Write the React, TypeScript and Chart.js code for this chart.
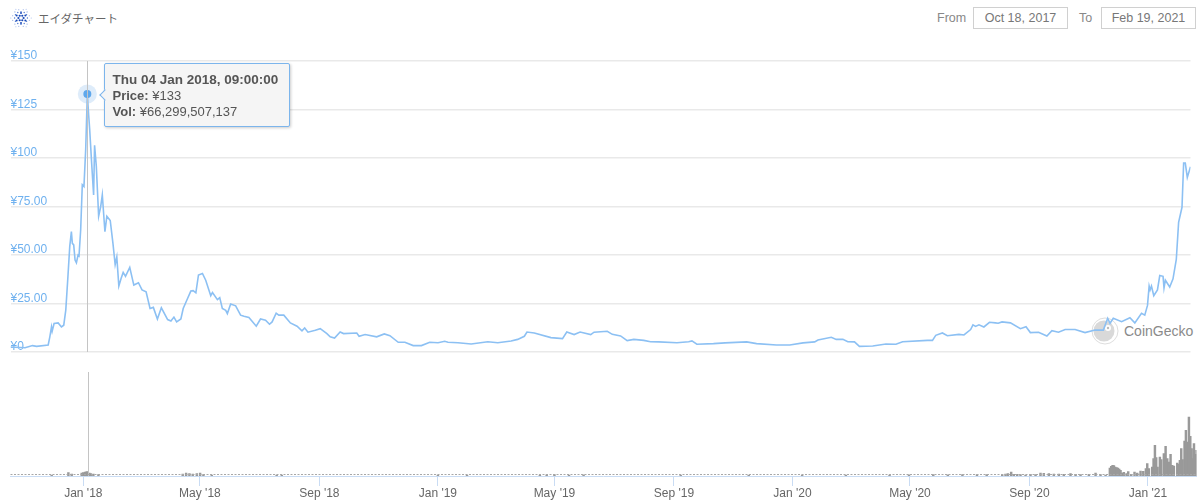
import React, { useEffect, useRef } from "react";
import { Chart, registerables } from "chart.js";

Chart.register(...registerables);

// Days counted from Oct 18, 2017
const priceDays = [
  0, 15, 22.8, 27, 39, 40.7, 42.4, 43.1, 45.1, 49.3, 52.7, 55.1, 57.2, 59.2, 61.3, 63, 64, 65.4, 66.8, 68.2, 69.9, 70.9, 72.6, 74.3, 76, 77.8,
  79.5, 80.9, 81.9, 84, 86, 87, 88.8, 91.2, 93.2, 95, 97.7, 99.7, 103.2, 106, 108.3, 110, 112.1, 114.5, 116.6, 119, 123.4, 127.6, 132.4, 136.1,
  140.3, 144.4, 147.8, 152, 156.1, 162.6, 166, 169.1, 171.9, 176.3, 178.7, 183.2, 186.6, 189, 191.8, 194.5, 198.6, 202, 207.2, 209, 214.1, 216.5,
  219.2, 222.7, 224.4, 227.8, 233, 238.1, 241.6, 246.7, 254.3, 258.7, 263.9, 268, 270.7, 274.9, 277.6, 282.8, 289.6, 296.5,
  301.6, 304.4, 307.8, 315.4, 320.5, 327.4, 330.8, 335.3, 341.1, 344.6, 358.3, 360.7, 366.9, 378.9, 386.8, 392.6, 401.2, 408.1, 416.7, 425.2,
  433.8, 442.4, 449.3, 452.7, 463, 476.7, 493.9, 504.2, 518, 524.8, 531.7, 534.4, 542, 559.2, 571.2, 575.6, 583.2, 589.4, 600.4, 603.8, 617.5,
  622.7, 631.3, 638.1, 645, 655.3, 662.2, 670.7, 689.6, 701.7, 705.1, 710.2,
  727.4, 739.4, 761.7, 772, 792.6, 806.3, 820.1, 832.1, 835.5, 849.3, 854.4, 861.3, 866.4, 873.3, 878.4, 892.2, 905.9, 916.2, 923.1, 948.8, 954,
  957.4, 964.3, 969.4, 981.4, 986.6, 993.5, 995.9, 998.6, 1002.1, 1007.2, 1013,
  1019.2, 1022, 1026, 1034.7, 1045, 1050.8, 1055.3, 1063.8, 1072.4, 1077.6, 1084.4, 1091.3, 1101.6, 1111.9, 1122.2, 1130.8, 1135.3, 1137.7, 1141.1,
  1149.7, 1158.3, 1163.4, 1170.3, 1173.7, 1176.5, 1178.2, 1179.2, 1180.6, 1183, 1186.8, 1189.2, 1192.6, 1193.6, 1195, 1199.5, 1202.9, 1206.3, 1208.7,
  1212.2, 1213.9, 1215.6, 1217.7, 1221,
];
const priceValues = [
  2.6, 2.2, 3.3, 2.9, 3.6, 7.8, 12.9, 10.7, 14.7, 15, 12.9, 13.8, 21.6, 37.1, 54.3, 62.1, 56, 55.2, 47.4, 46, 50, 49.5, 62.9, 86.2, 85.3, 104.3,
  133, 122, 115, 97, 81, 106.6, 95.7, 70, 74.6, 81, 62, 70, 67.8, 56, 45, 49, 34, 38, 41, 39, 43.6, 34.5, 35.7, 32,
  31, 22.4, 23, 17, 22.8, 16.7, 16, 18, 15.5, 17, 22.4, 27.6, 31.4, 31.6, 30.5, 39.7, 40.5, 37, 29, 30.7, 27, 28,
  22.4, 21.5, 19.8, 24.7, 23.8, 19, 18.4, 17.8, 13.3, 17, 16.4, 14.3, 15.5, 20, 19, 19, 15, 13.3,
  10.9, 12.4, 10.2, 11.2, 12, 9.5, 7.8, 7.2, 10.3, 9.5, 9.8, 8.1, 9, 7.8, 9.3, 8.4, 5, 5, 3.3, 3.3,
  5, 4.8, 5.5, 5, 4.8, 4.1, 5.3, 4.8, 5.7, 6.5, 8.1, 10.3, 9.8, 7.4, 6.9, 10.3, 9, 10.3, 9, 10.2, 10.7,
  9.1, 8.3, 5.9, 6.5, 6, 5.3, 5.2, 4.8, 5.3, 5.7, 4,
  4.3, 4.7, 5.2, 4.3, 3.6, 3.6, 4.7, 5.2, 6.2, 7.6, 6.5, 6.5, 5.3, 5.2, 2.9, 3.1, 4.1, 4, 5.3, 6, 6,
  8.6, 9.8, 8.4, 9.1, 8.8, 11.6, 14, 13.2, 14, 12.9, 15.3,
  15, 14.8, 15.5, 15, 12, 13, 10, 10.2, 8.2, 11, 10.2, 11.6, 11.6, 10, 11.3, 11.3, 17.4, 14.8, 17.4,
  15.6, 17.7, 15, 20, 19, 24, 34, 32, 34, 29, 32, 39.4, 39, 33, 37, 33.5, 37.7, 47.7, 66.8,
  74.6, 97.4, 97.4, 90, 95.5,
];
const volumeDays = [
  42.4, 59.6, 63, 73.3, 75, 76.7, 78.5, 79.5, 81.2, 82.6, 85.3, 90.5,
  177.3, 180.8, 184.2, 187.6, 191.8, 195.2, 198.6, 207.2, 274, 279.3,
  440, 470, 545, 552, 560, 575, 590, 690, 760, 815, 860, 905, 925, 950, 965, 980, 995, 1005,
  1021, 1024.4, 1026.8, 1030.2, 1032.9, 1036.4, 1039.8, 1045, 1050.1, 1055.3, 1060.4, 1063.8, 1069, 1074.1, 1079.3, 1084.4, 1091.3, 1096.5, 1101.6,
  1110.2, 1117.1, 1122.2, 1127.4, 1131.8, 1133.2, 1134.6, 1136, 1137.3, 1138.7, 1140.1, 1141.4, 1142.8, 1144.2, 1146.2, 1149, 1150.7, 1153.8, 1157.2,
  1160, 1163.4, 1166.2, 1168.9, 1170.3, 1172, 1175.4, 1176.8, 1178.2, 1179.5, 1180.9, 1183.3, 1184.7, 1187.4, 1189.2, 1190.9, 1192.9, 1194.3, 1196,
  1197.7, 1201.2, 1202.6, 1203.9, 1205.3, 1206.7, 1208.7, 1210.1, 1211.5, 1213.2, 1214.6, 1216, 1217.3, 1218.4, 1219.7, 1221,
];
const volumeValues = [
  16, 58, 33, 50, 58, 66, 74, 66.3, 50, 41, 33, 25,
  33, 50, 41, 33, 41, 50, 25, 16, 16, 16,
  14, 14, 16, 18, 22, 16, 18, 14, 14, 14, 14, 16, 20, 22, 20, 22, 25, 22,
  22, 33, 38.5, 66, 27.5, 27.5, 22, 16.5, 27.5, 22, 49.5, 44, 38.5, 33, 33, 27.5, 38.5, 27.5, 22,
  27.5, 49.5, 22, 16.5, 132, 159.5, 176, 170.5, 148.5, 137.5, 132, 115.5, 93.5, 49.5, 60.5, 38.5, 71.5, 27.5, 66,
  49.5, 82.5, 77, 121, 203.5, 121, 148.5, 286, 506, 302.5, 148.5, 313.5, 269.5, 368.5, 489.5, 286, 231, 357.5, 176,
  165, 214.5, 192.5, 258.5, 451, 269.5, 577.5, 753.5, 561, 973, 655, 451, 286, 533, 357.5, 424,
];
const yTickLabels = ["¥0", "¥25.00", "¥50.00", "¥75.00", "¥100", "¥125", "¥150"];
const xTickDays = [75, 195, 318, 440, 560, 683, 805, 926, 1049, 1171];
const xTickLabels = ["Jan '18", "May '18", "Sep '18", "Jan '19", "May '19", "Sep '19", "Jan '20", "May '20", "Sep '20", "Jan '21"];
const chartTitle = "エイダチャート";
const fromDate = "Oct 18, 2017";
const toDate = "Feb 19, 2021";
const tooltipDate = "Thu 04 Jan 2018, 09:00:00";
const tooltipPrice = "¥133";
const tooltipVolume = "¥66,299,507,137";

const SANS = '"Liberation Sans", Arial, sans-serif';
const peakIndex = priceValues.indexOf(Math.max(...priceValues));
const peakDay = priceDays[peakIndex];
const peakPrice = priceValues[peakIndex];
const DAY_MAX = 1221;

const crosshair = {
  id: "crosshair",
  afterDatasetsDraw(chart: any) {
    const { ctx, chartArea, scales } = chart;
    const x = Math.round(scales.x.getPixelForValue(peakDay)) + 0.5;
    ctx.save();
    ctx.strokeStyle = "#c4c4c4";
    ctx.lineWidth = 1;
    ctx.beginPath();
    ctx.moveTo(x, chartArea.top);
    ctx.lineTo(x, chartArea.bottom);
    ctx.stroke();
    ctx.restore();
  },
};

const baselineDots = {
  id: "baselineDots",
  afterDatasetsDraw(chart: any) {
    const { ctx, chartArea } = chart;
    ctx.save();
    ctx.strokeStyle = "#a8a8a8";
    ctx.lineWidth = 1;
    ctx.setLineDash([2, 1.5]);
    ctx.beginPath();
    ctx.moveTo(chartArea.left, Math.round(chartArea.bottom) - 1.5);
    ctx.lineTo(chartArea.right, Math.round(chartArea.bottom) - 1.5);
    ctx.stroke();
    ctx.restore();
  },
};

function CardanoIcon() {
  const dots: React.ReactNode[] = [];
  const rings = [
    { r: 2.6, n: 6, s: 1.1, c: "#1a4ab8" },
    { r: 5, n: 6, s: 1, c: "#1a4ab8" },
    { r: 6.4, n: 12, s: 0.7, c: "#4a74cf" },
    { r: 8.6, n: 12, s: 0.55, c: "#7f9cdf" },
    { r: 10.2, n: 6, s: 0.5, c: "#9ab2e8" },
  ];
  rings.forEach((ring, i) => {
    for (let k = 0; k < ring.n; k++) {
      const a = (k / ring.n) * Math.PI * 2 + (i % 2 ? Math.PI / ring.n : 0);
      dots.push(<circle key={i + "-" + k} cx={11 + ring.r * Math.cos(a)} cy={11 + ring.r * Math.sin(a)} r={ring.s} fill={ring.c} />);
    }
  });
  return (
    <svg width={22} height={22} style={{ position: "absolute", left: 10, top: 7 }}>
      {dots}
    </svg>
  );
}

export default function App() {
  const priceRef = useRef<HTMLCanvasElement>(null);
  const volumeRef = useRef<HTMLCanvasElement>(null);

  useEffect(() => {
    const priceChart = new Chart(priceRef.current!, {
      type: "line",
      data: {
        datasets: [
          {
            data: [{ x: peakDay, y: peakPrice }],
            pointRadius: 4,
            pointBackgroundColor: "#5fa8ec",
            pointBorderWidth: 0,
            showLine: false,
            order: 0,
          },
          {
            data: priceDays.map((d, i) => ({ x: d, y: priceValues[i] })),
            borderColor: "#8cc0f3",
            borderWidth: 1.6,
            pointRadius: 0,
            tension: 0,
            order: 1,
          },
          {
            data: [{ x: peakDay, y: peakPrice }],
            pointRadius: 9.5,
            pointBackgroundColor: "rgba(124,181,236,0.25)",
            pointBorderWidth: 0,
            showLine: false,
            order: 2,
          },
        ],
      },
      options: {
        animation: false,
        responsive: false,
        events: [],
        layout: { padding: { left: 10.5, right: 3.5, top: 61, bottom: 18 } },
        plugins: { legend: { display: false }, tooltip: { enabled: false } },
        scales: {
          x: { type: "linear", display: false, min: 0, max: DAY_MAX },
          y: {
            min: 0,
            max: 150,
            border: { display: false },
            grid: { color: "#e9e9e9", lineWidth: 1.5, drawTicks: false },
            afterFit: (s: any) => { s.width = 0; },
            ticks: {
              stepSize: 25,
              mirror: true,
              padding: 0,
              labelOffset: -5,
              color: "#6fb1ef",
              font: { family: SANS, size: 12 },
              callback: (_v: any, i: number) => yTickLabels[i],
            },
          },
        },
      },
      plugins: [crosshair],
    } as any);

    const volumeChart = new Chart(volumeRef.current!, {
      type: "bar",
      data: {
        datasets: [
          {
            data: volumeDays.map((d, i) => ({ x: d, y: volumeValues[i] })),
            backgroundColor: "#999999",
            barThickness: 1.8,
          },
        ],
      },
      options: {
        animation: false,
        responsive: false,
        events: [],
        layout: { padding: { left: 10.5, right: 3.5, top: 12, bottom: 0 } },
        plugins: { legend: { display: false }, tooltip: { enabled: false } },
        scales: {
          x: {
            type: "linear",
            min: 0,
            max: DAY_MAX,
            offset: false,
            afterBuildTicks: (s: any) => { s.ticks = xTickDays.map((value) => ({ value })); },
            afterFit: (s: any) => { s.height = 26; },
            grid: { offset: false, drawOnChartArea: false, tickLength: 10, tickColor: "#c9dcf4" },
            border: { color: "#c9dcf4" },
            ticks: {
              autoSkip: false,
              maxRotation: 0,
              color: "#666666",
              padding: 0,
              font: { family: SANS, size: 12 },
              callback: (_v: any, i: number) => xTickLabels[i],
            },
          },
          y: {
            min: 0,
            max: 1716,
            afterBuildTicks: (s: any) => { s.ticks = []; },
            afterFit: (s: any) => { s.width = 0; },
            border: { display: false },
            grid: { display: false },
            ticks: { display: false },
          },
        },
      },
      plugins: [crosshair, baselineDots],
    } as any);

    return () => {
      priceChart.destroy();
      volumeChart.destroy();
    };
  }, []);

  const boxStyle: React.CSSProperties = {
    position: "absolute",
    top: 7,
    width: 93,
    height: 20,
    border: "1px solid #d0d0d0",
    textAlign: "center",
    lineHeight: "20px",
    fontSize: 12.5,
    color: "#777",
  };
  const labelStyle: React.CSSProperties = { position: "absolute", top: 7, lineHeight: "22px", fontSize: 12.5, color: "#888" };

  return (
    <div style={{ position: "absolute", left: 0, top: 0, width: 1200, height: 502, overflow: "hidden", background: "#fff", fontFamily: SANS }}>
      <CardanoIcon />
      <div style={{ position: "absolute", left: 38, top: 8, lineHeight: "20px", fontSize: 11.5, color: "#666", fontFamily: '"Noto Sans CJK JP", sans-serif' }}>
        {chartTitle}
      </div>
      <div style={{ ...labelStyle, left: 937 }}>From</div>
      <div style={{ ...boxStyle, left: 973 }}>{fromDate}</div>
      <div style={{ ...labelStyle, left: 1079 }}>To</div>
      <div style={{ ...boxStyle, left: 1101 }}>{toDate}</div>

      <svg width={28} height={28} style={{ position: "absolute", left: 1091, top: 317 }}>
        <circle cx={14} cy={14} r={13} fill="#fff" stroke="#dedede" strokeWidth={1} />
        <circle cx={13} cy={14} r={10.5} fill="#d9d9d9" />
        <circle cx={17} cy={11} r={3} fill="#fff" />
        <circle cx={17} cy={11} r={1.2} fill="#bbb" />
      </svg>
      <div style={{ position: "absolute", left: 1124, top: 322, lineHeight: "18px", fontSize: 14, color: "#8a8a8a" }}>CoinGecko</div>

      <canvas ref={priceRef} width={1200} height={370} style={{ position: "absolute", left: 0, top: 0, display: "block" }} />
      <canvas ref={volumeRef} width={1200} height={142} style={{ position: "absolute", left: 0, top: 360, display: "block" }} />

      <div
        style={{
          position: "absolute",
          left: 104,
          top: 63,
          width: 184,
          height: 62,
          background: "#f5f5f5",
          border: "1px solid #7cb5ec",
          borderRadius: 2,
          boxShadow: "1px 1px 3px rgba(0,0,0,0.2)",
          color: "#555",
          fontSize: 13,
        }}
      >
        <div
          style={{
            position: "absolute",
            left: -4.5,
            top: 27,
            width: 7,
            height: 7,
            background: "#f5f5f5",
            borderLeft: "1px solid #7cb5ec",
            borderBottom: "1px solid #7cb5ec",
            transform: "rotate(45deg)",
          }}
        />
        <div style={{ position: "absolute", left: 7.5, top: 7.5, lineHeight: "16px", whiteSpace: "nowrap" }}>
          <div style={{ fontWeight: "bold", fontSize: 13.5 }}>{tooltipDate}</div>
          <div><b>Price:</b> {tooltipPrice}</div>
          <div><b>Vol:</b> {tooltipVolume}</div>
        </div>
      </div>
    </div>
  );
}
